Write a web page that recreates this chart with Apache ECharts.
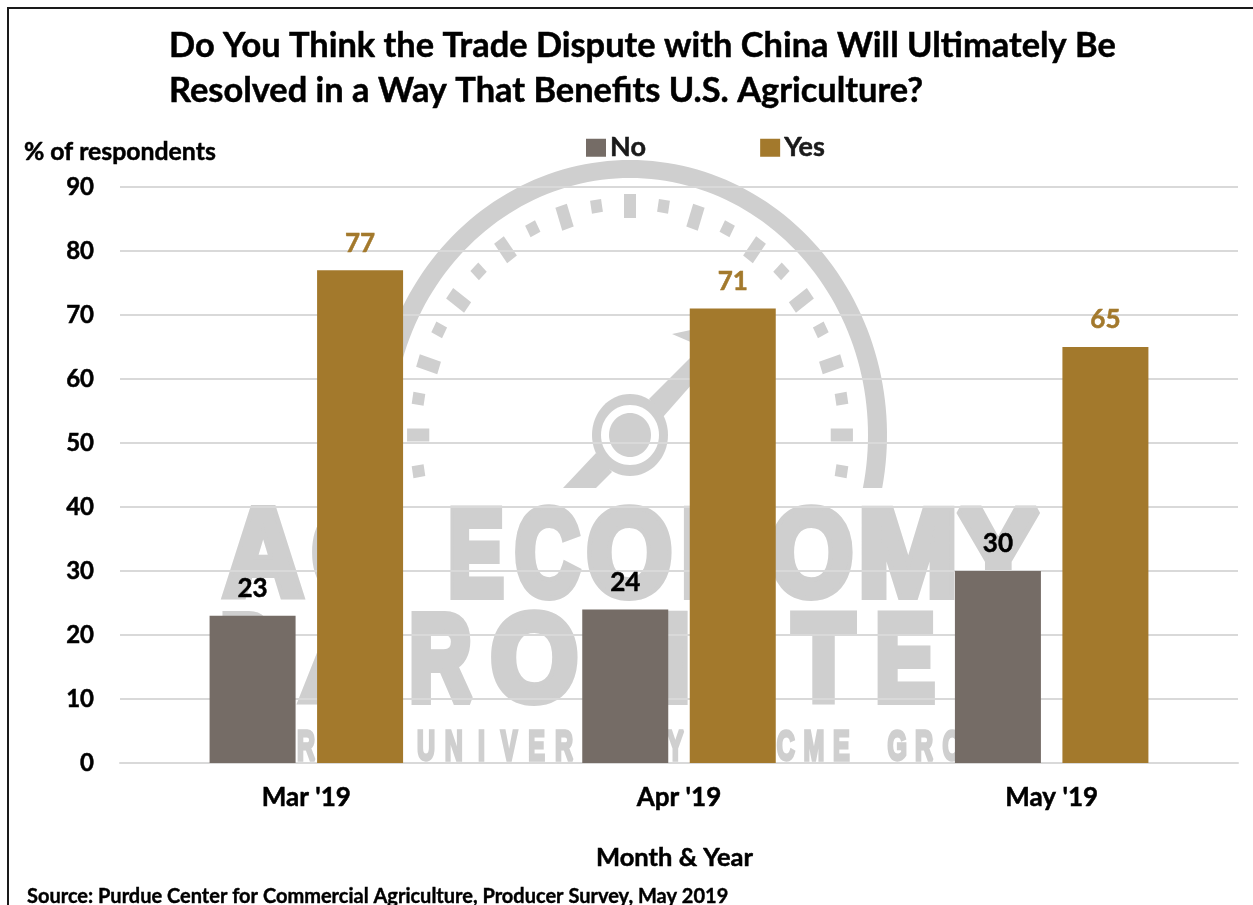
<!DOCTYPE html>
<html>
<head>
<meta charset="utf-8">
<style>html,body{margin:0;padding:0;background:#fff}#chart{width:1253px;height:905px}</style>
<script src="https://cdn.jsdelivr.net/npm/echarts@6/dist/echarts.min.js"></script>
</head>
<body>
<div id="chart"></div>
<script>
const categories = ["Mar '19", "Apr '19", "May '19"];
const noValues = [23, 24, 30];
const yesValues = [77, 71, 65];
const yTicks = { min: 0, max: 90, interval: 10 };

const FONT = 'Lato, Carlito, sans-serif';
const MARK_GREY = '#cfcfcf';
const MARK_FONT = 'bold 100px "Liberation Sans"';
const MARK_STROKE = 8;

// Big wordmark letters behind the plot: [glyph, left edge, right edge]
const wordOne = [['A',222,304],['G',312,396],['E',450,504],['C',515,581],['O',587,672],['N',683,763],['O',770,853],['M',861,955],['Y',955,1042]];
const wordTwo = [['B',222,274],['A',298,400],['R',411,474],['O',491,578],['M',585,688],['E',700,770],['T',790,858],['E',877,935],['R',955,1040]];
const strapline = 'PURDUE UNIVERSITY | CME GROUP';

const measureCtx = document.createElement('canvas').getContext('2d');
measureCtx.font = MARK_FONT;
measureCtx.textBaseline = 'middle';
const capBox = measureCtx.measureText('E');

// Stretch one heavy-outlined glyph so its box fills left..right and top..bottom
function fitGlyph(ch, left, right, top, bottom, box) {
  const m = measureCtx.measureText(ch);
  const v = box || capBox;
  const sx = (right - left) / (m.actualBoundingBoxRight + m.actualBoundingBoxLeft + MARK_STROKE);
  const sy = (bottom - top) / (v.actualBoundingBoxAscent + v.actualBoundingBoxDescent + MARK_STROKE);
  return {
    type: 'text', z: -10, silent: true,
    x: left + (m.actualBoundingBoxLeft + MARK_STROKE / 2) * sx,
    y: top + (v.actualBoundingBoxAscent + MARK_STROKE / 2) * sy,
    scaleX: sx, scaleY: sy,
    style: { text: ch, font: MARK_FONT, fill: MARK_GREY, stroke: MARK_GREY, lineWidth: MARK_STROKE,
      lineJoin: 'miter', align: 'left', verticalAlign: 'middle' }
  };
}

// Gauge emblem: ellipse centred at (cx, cy), dial squeezed horizontally
function gaugeEmblem() {
  const cx = 630, cy = 435, squeeze = 0.925;
  const els = [];
  const ringClip = 488;
  const arcPts = (rx, ry, a0, a1) => {
    const pts = [];
    for (let i = 0; i <= 120; i++) {
      const a = a0 + (a1 - a0) * i / 120;
      pts.push([cx + rx * Math.cos(a), cy - ry * Math.sin(a)]);
    }
    return pts;
  };
  const endOuter = Math.asin((cy - ringClip) / 275), endInner = Math.asin((cy - ringClip) / 257);
  const ring = arcPts(257, 275, Math.PI - endOuter, endOuter)
    .concat(arcPts(238, 257, endInner, Math.PI - endInner));
  els.push({ type: 'polygon', z: -10, silent: true, shape: { points: ring }, style: { fill: MARK_GREY } });

  const tick = (deg, r0, r1, halfW) => {
    const a = deg * Math.PI / 180, c = Math.cos(a), s = Math.sin(a);
    const pt = (r, w) => [cx + (r * c - w * s) * squeeze, cy - (r * s + w * c)];
    els.push({ type: 'polygon', z: -10, silent: true,
      shape: { points: [pt(r0, -halfW), pt(r1, -halfW), pt(r1, halfW), pt(r0, halfW)] },
      style: { fill: MARK_GREY } });
  };
  for (let deg = 0; deg <= 180; deg += 18) tick(deg, 217, 241, 6.5);
  for (let deg = -9; deg <= 189; deg += 18) tick(deg, 225, 238, 6);

  const poly = pts => els.push({ type: 'polygon', z: -10, silent: true, shape: { points: pts }, style: { fill: MARK_GREY } });
  poly([[649,399],[700,348],[720,345],[700,375],[663,417]]);
  poly([[672,334],[700,328],[700,346]]);
  poly([[596,453],[563,488],[596,488],[612,472]]);
  const ell = (rx, ry, fill) => els.push({ type: 'ellipse', z: -10, silent: true, shape: { cx, cy, rx, ry }, style: { fill } });
  ell(38, 41, MARK_GREY); ell(29, 30, '#fff'); ell(21, 22, MARK_GREY);
  return els;
}

function wordmark() {
  const els = [];
  wordOne.forEach(g => els.push(fitGlyph(g[0], g[1], g[2], 505, 600)));
  wordTwo.forEach(g => els.push(fitGlyph(g[0], g[1], g[2], 610, 705)));
  const step = 27.7, start = 417 - 7 * step;
  strapline.split('').forEach((ch, i) => {
    if (ch === ' ') return;
    const m = measureCtx.measureText(ch);
    const width = (m.actualBoundingBoxRight + m.actualBoundingBoxLeft) * 0.25 + 2;
    const centre = start + i * step + 9 + (i < 6 ? 19 : 0);
    els.push(fitGlyph(ch, centre - width / 2, centre + width / 2, 730, 762, ch === '|' ? m : null));
  });
  return els;
}

const inkBold = { fontFamily: FONT, fontWeight: 'bold', color: '#000', textBorderColor: '#000', textBorderWidth: 0.5 };

const chart = echarts.init(document.getElementById('chart'), null, { renderer: 'canvas' });
chart.setOption({
  animation: false,
  backgroundColor: '#fff',
  textStyle: { fontFamily: FONT },
  title: {
    text: 'Do You Think the Trade Dispute with China Will Ultimately Be\nResolved in a Way That Benefits U.S. Agriculture?',
    left: 164, top: 18,
    textStyle: { ...inkBold, fontSize: 34.4, lineHeight: 45 }
  },
  legend: {
    left: 581, top: 129, itemWidth: 20, itemHeight: 18, itemGap: 114,
    icon: 'rect',
    textStyle: { ...inkBold, fontSize: 27, color: '#1a1a1a', textBorderColor: '#1a1a1a', padding: [0, 0, 0, -1] },
    data: ['No', 'Yes']
  },
  grid: { left: 120, right: 15, top: 187, bottom: 142, containLabel: false },
  xAxis: {
    type: 'category', data: categories,
    axisTick: { show: false },
    axisLine: { lineStyle: { color: '#d9d9d9', width: 2 } },
    axisLabel: { ...inkBold, fontSize: 26, margin: 22 },
    name: 'Month & Year', nameLocation: 'middle', nameGap: 82,
    nameTextStyle: { ...inkBold, fontSize: 25.5, padding: [0, 9, 0, 0] }
  },
  yAxis: {
    type: 'value', min: yTicks.min, max: yTicks.max, interval: yTicks.interval,
    axisLine: { show: false }, axisTick: { show: false },
    splitLine: { lineStyle: { color: '#d9d9d9', width: 2 } },
    axisLabel: { ...inkBold, fontSize: 24, margin: 26 }
  },
  series: [
    { name: 'No', type: 'bar', data: noValues, barWidth: 86, barGap: '25%',
      itemStyle: { color: '#756c66' },
      label: { show: true, position: 'top', distance: 14, ...inkBold, fontSize: 26 } },
    { name: 'Yes', type: 'bar', data: yesValues, barWidth: 86,
      itemStyle: { color: '#a3792c' },
      label: { show: true, position: 'top', distance: 14, ...inkBold, fontSize: 26, color: '#a3792c', textBorderColor: '#a3792c' } }
  ],
  graphic: { elements: [
    { type: 'rect', z: -20, silent: true, shape: { x: 8, y: 8, width: 1300, height: 1000 },
      style: { fill: '#fff', stroke: '#1a1a1a', lineWidth: 2 } },
    ...gaugeEmblem(),
    ...wordmark(),
    { type: 'text', x: 24, y: 140, style: { text: '% of respondents', font: 'bold 24.8px ' + FONT, fill: '#000', stroke: '#000', lineWidth: 0.5 } },
    { type: 'text', x: 27, y: 887, style: { text: 'Source: Purdue Center for Commercial Agriculture, Producer Survey, May 2019', font: 'bold 20px ' + FONT, fill: '#000', stroke: '#000', lineWidth: 0.4 } }
  ] }
});
</script>
</body>
</html>
